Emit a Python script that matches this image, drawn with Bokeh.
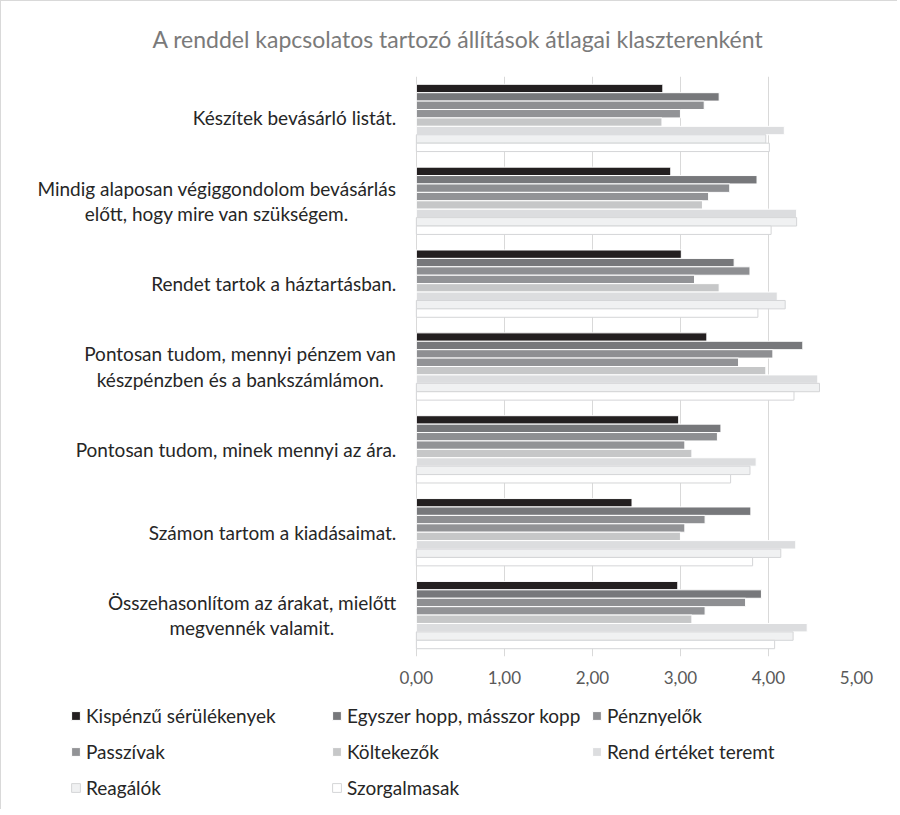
from bokeh.plotting import figure
from bokeh.layouts import column
from bokeh.models import ColumnDataSource, FactorRange, FixedTicker, Legend, LegendItem, Title
from bokeh.core.properties import value
from bokeh.transform import dodge
from bokeh.embed import file_html
from bokeh.resources import INLINE

title_text = "A renddel kapcsolatos tartozó állítások átlagai klaszterenként"

categories = [
    "Készítek bevásárló listát.",
    "Mindig alaposan végiggondolom bevásárlás\nelőtt, hogy mire van szükségem.",
    "Rendet tartok a háztartásban.",
    "Pontosan tudom, mennyi pénzem van\nkészpénzben és a bankszámlámon.",
    "Pontosan tudom, minek mennyi az ára.",
    "Számon tartom a kiadásaimat.",
    "Összehasonlítom az árakat, mielőtt\nmegvennék valamit.",
]

series_names = [
    "Kispénzű sérülékenyek",
    "Egyszer hopp, másszor kopp",
    "Pénznyelők",
    "Passzívak",
    "Költekezők",
    "Rend értéket teremt",
    "Reagálók",
    "Szorgalmasak",
]

kispenzu = [2.80, 2.89, 3.01, 3.30, 2.98, 2.45, 2.97]
egyszer_hopp = [3.44, 3.87, 3.61, 4.39, 3.46, 3.80, 3.92]
penznyelok = [3.27, 3.56, 3.79, 4.05, 3.42, 3.28, 3.74]
passzivak = [3.00, 3.32, 3.16, 3.66, 3.05, 3.05, 3.28]
koltekezok = [2.79, 3.25, 3.44, 3.97, 3.13, 3.00, 3.13]
rend_erteket = [4.18, 4.32, 4.10, 4.56, 3.86, 4.31, 4.44]
reagalok = [3.97, 4.32, 4.19, 4.58, 3.79, 4.14, 4.28]
szorgalmasak = [4.01, 4.03, 3.88, 4.29, 3.57, 3.82, 4.07]

x_ticks = [0, 1, 2, 3, 4, 5]
x_tick_labels = ["0,00", "1,00", "2,00", "3,00", "4,00", "5,00"]

series_values = [kispenzu, egyszer_hopp, penznyelok, passzivak,
                 koltekezok, rend_erteket, reagalok, szorgalmasak]
fill_colors = ["#231f20", "#77787b", "#8e8f92", "#929396",
               "#c6c7c8", "#dcdddf", "#f0f1f2", "#ffffff"]
line_colors = ["#ffffff", "#ffffff", "#ffffff", "#ffffff",
               "#ffffff", "#ffffff", "#d4d5d7", "#d4d5d7"]

FONT = "Lato"
BAR_H = 0.1015
TEXT_COLOR = "#262626"
BORDER = "1px solid #d9d9d9"

p = figure(
    width=897, height=697,
    y_range=FactorRange(factors=list(reversed(categories)), range_padding=0, factor_padding=0),
    x_range=(-4.508, 5),
    output_backend="svg", toolbar_location=None,
    min_border_left=18, min_border_right=42, min_border_top=74, min_border_bottom=42,
)
p.outline_line_color = None
p.styles = {"border-left": BORDER, "border-top": BORDER}

data = {"cat": categories}
for i, vals in enumerate(series_values):
    data["s%d" % i] = vals
src = ColumnDataSource(data)

n = len(series_values)
for i in range(n):
    off = ((n - 1) / 2 - i) * BAR_H
    p.hbar(y=dodge("cat", off, range=p.y_range), right="s%d" % i, left=0,
           height=BAR_H, source=src, fill_color=fill_colors[i],
           line_color=line_colors[i], line_width=1)

# category labels: block anchored right, lines centred
p.text(x=0, y="cat", text="cat", source=src, x_offset=-20,
       anchor="center_right", text_align="center", text_baseline="middle",
       text_font=value(FONT), text_font_size="19px", text_color=TEXT_COLOR,
       text_line_height=1.1)

# axes
p.yaxis.visible = False
p.xaxis.ticker = FixedTicker(ticks=x_ticks)
p.xaxis.major_label_overrides = {t: l for t, l in zip(x_ticks, x_tick_labels)}
p.xaxis.axis_line_color = None
p.xaxis.major_tick_line_color = None
p.xaxis.minor_tick_line_color = None
p.xaxis.major_label_text_font = FONT
p.xaxis.major_label_text_font_size = "17px"
p.xaxis.major_label_text_color = "#595959"
p.xaxis.major_label_standoff = 8

p.xgrid.ticker = FixedTicker(ticks=x_ticks)
p.xgrid.grid_line_color = "#d9d9d9"
p.ygrid.grid_line_color = None

t = Title(text=title_text, align="left", offset=133, text_font=FONT,
          text_font_size="23px", text_color="#7a7a7a", text_font_style="normal",
          vertical_align="middle", standoff=45)
p.add_layout(t, "above")

# legend figure (legend glyphs take their style from one-row renderers kept out of view)
lg = figure(width=897, height=112, x_range=(0, 1), y_range=(0, 1),
            output_backend="svg", toolbar_location=None,
            min_border=0, min_border_left=0, min_border_right=0,
            min_border_top=0, min_border_bottom=0)
lg.outline_line_color = None
lg.styles = {"border-left": BORDER}
lg.xaxis.visible = False
lg.yaxis.visible = False
lg.xgrid.visible = False
lg.ygrid.visible = False

leg_items = []
for i in range(n):
    s = ColumnDataSource({"v": [series_values[i][0]]})
    r = lg.hbar(y=-5, right="v", left=0, height=BAR_H, source=s,
                fill_color=fill_colors[i], line_color=line_colors[i], line_width=1)
    leg_items.append(LegendItem(label=series_names[i], renderers=[r]))

legend_cols = [[0, 3, 6], [1, 4, 7], [2, 5]]
legend_x = [51, 312, 572]
for col, lx in zip(legend_cols, legend_x):
    ly = 10 + (3 - len(col)) * 36
    lgd = Legend(items=[leg_items[k] for k in col], location=(lx, ly),
                 orientation="vertical",
                 glyph_width=11, glyph_height=11, label_standoff=5, spacing=13,
                 padding=0, margin=0, border_line_color=None, background_fill_alpha=0,
                 label_text_font=FONT, label_text_font_size="19px",
                 label_text_color=TEXT_COLOR)
    lg.add_layout(lgd, "center")

layout = column(p, lg, spacing=0)
open("out.html", "w").write(file_html(layout, INLINE))
